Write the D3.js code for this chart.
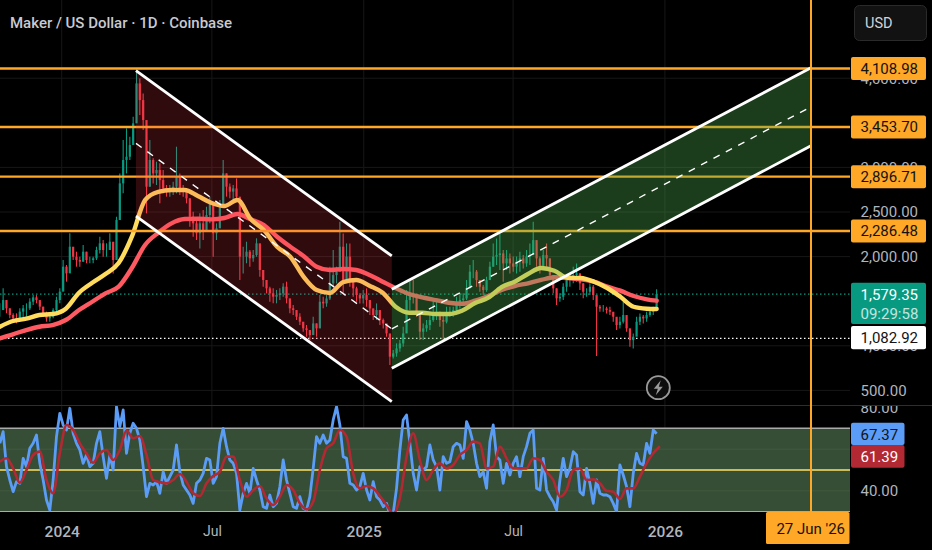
<!DOCTYPE html>
<html>
<head>
<meta charset="utf-8">
<script src="https://cdn.jsdelivr.net/npm/d3@7"></script>
<style>
html, body { margin: 0; padding: 0; background: #000; overflow: hidden; }
svg { display: block; font-family: Roboto, sans-serif; }
</style>
</head>
<body>
<svg id="chart" width="932" height="550"></svg>
<script>
// Candles, one every 4 days or so
const barStart = new Date(2023, 9, 18);
const barStep = 4.04;
const barHigh = [1476,1644,1513,1420,1364,1364,1420,1458,1476,1532,1569,1569,1495,1439,1383,1345,1420,1551,1644,1962,1906,2261,2092,2055,1999,2130,2055,1999,1999,2111,2223,2186,2149,2261,2149,2447,2933,3307,3438,3345,3569,4092,3998,3830,3345,3307,3102,3064,3046,2971,2803,2803,2840,3232,2933,2803,2746,2653,2504,2410,2485,2522,2559,2672,2522,2373,2634,3083,2933,2821,2803,2877,2597,2111,2167,2074,2074,2205,2111,1794,1738,1663,1644,1626,1644,1700,1719,1495,1458,1401,1364,1252,1233,
  1158,1326,1251,1569,1550,1569,1887,2073,1887,2391,2260,2148,2148,1756,1662,1588,1625,1644,1513,1419,1475,1345,1307,1214,1064,952,1027,1064,1214,1625,1737,1737,1513,1345,1251,1289,1345,1494,1513,1382,1363,1438,1438,1438,1550,1588,1588,1737,1905,1961,1849,1737,1681,1775,1943,2148,2204,2260,2073,2073,2036,2000,2000,2055,2017,2073,2148,2391,2148,2000,2073,2148,1980,1756,1644,1588,1700,1793,1793,1887,1924,1812,1700,1644,1700,1681,1550,1457,1457,1438,1438,1363,1307,1326,1494,1251,1195,1139,1326,1363,1345,1382,1401,1438,1633];
const barLow = [1326,1401,1364,1308,1270,1252,1270,1289,1326,1401,1458,1476,1401,1326,1270,1270,1308,1383,1476,1626,1719,1962,1962,1887,1887,1943,1925,1925,1925,1962,2036,1999,1999,2074,1812,1962,2447,2709,2933,3083,3270,3569,3587,3419,2485,2784,2821,2803,2597,2709,2672,2672,2690,2709,2690,2672,2597,2335,2223,2186,2092,2186,2373,2373,1999,2186,2373,2634,2672,2653,2634,2615,1738,1812,1925,1887,1943,1999,1775,1663,1588,1495,1476,1476,1513,1551,1476,1364,1345,1289,1233,1158,1102,
  1064,1158,1102,1401,1420,1438,1513,1662,1700,1887,1588,1775,1662,1550,1494,1475,1475,1438,1345,1289,1289,1232,1195,1102,784,859,878,934,990,1214,1401,1475,1326,1064,1064,1158,1177,1270,1289,1214,1064,1251,1326,1326,1345,1419,1457,1513,1700,1756,1662,1606,1569,1606,1737,1887,1905,1849,1718,1849,1812,1831,1812,1830,1868,1887,1905,2036,1887,1812,1924,1887,1756,1588,1457,1494,1513,1606,1662,1700,1718,1625,1532,1550,1569,1513,885,1382,1382,1363,1345,1270,1177,1195,1251,1158,990,971,1139,1232,1251,1270,1326,1345,1438];
const barClose = [1401,1513,1420,1345,1308,1289,1383,1420,1420,1495,1543,1513,1439,1364,1308,1326,1401,1513,1607,1887,1812,2111,1999,1962,1943,2055,1962,1962,1981,2074,2149,2074,2074,2167,1962,2410,2821,3083,3120,3251,3494,3942,3755,3531,2784,3083,2933,2971,2858,2765,2728,2765,2784,2896,2765,2728,2653,2447,2373,2261,2373,2298,2466,2597,2261,2317,2578,2933,2784,2728,2765,2672,2000,2000,2055,1981,2018,2149,1850,1738,1644,1588,1551,1569,1588,1663,1532,1420,1401,1326,1270,1196,1177,
  1120,1251,1195,1494,1475,1531,1700,1793,1831,2111,1737,2000,1756,1644,1569,1531,1569,1513,1419,1345,1401,1289,1251,1139,878,915,971,1027,1139,1513,1588,1550,1382,1158,1195,1232,1289,1363,1382,1289,1270,1363,1382,1401,1475,1513,1531,1644,1831,1831,1737,1662,1625,1737,1887,2000,2017,2036,1924,1980,1924,1887,1943,1980,1924,2000,2017,2185,1980,1887,2017,1980,1793,1644,1531,1550,1662,1737,1737,1793,1812,1700,1606,1606,1662,1569,1438,1419,1419,1401,1382,1326,1232,1270,1345,1195,1064,1102,1270,1326,1307,1345,1382,1401,1579.35];

// Moving averages, one reading every 16 days
const maStep = 16;
const maEnd = 796;
const maYellow = [1214,1278,1304,1345,1356,1416,1595,1707,1805,1928,2223,2634,2727,2746,2746,2679,2604,2567,2634,2421,2298,2111,1999,1775,1625,1592,1715,1738,1674,1595,1435,1371,1371,1356,1356,1393,1480,1539,1659,1718,1805,1872,1842,1763,1760,1718,1648,1550,1438,1416,1412];
const maRed = [1084,1129,1177,1214,1233,1289,1401,1494,1588,1663,1872,2130,2268,2373,2421,2425,2418,2433,2477,2418,2354,2223,2111,2007,1887,1850,1861,1850,1794,1719,1645,1581,1544,1513,1483,1472,1506,1558,1625,1670,1701,1738,1768,1760,1745,1719,1663,1618,1558,1521,1506];

// RSI and its average
const rsiBlue = [62.8,68.4,51.6,45.2,39.6,44.4,43.6,55.6,51.6,60.4,62.8,66.8,53.2,45.2,35.6,30.8,45.2,66.0,77.2,71.6,69.2,79.6,67.6,62.8,59.6,53.2,57.2,51.6,53.2,62.8,68.4,56.4,46.0,57.2,50.0,80.4,70.8,78.8,58.0,67.6,72.4,70.0,64.4,51.6,37.2,43.6,42.8,44.4,38.8,49.2,43.6,46.8,50.0,62.0,49.2,42.8,40.4,38.0,34.0,43.6,45.2,48.4,55.6,54.8,43.6,46.8,62.8,70.0,61.2,54.8,53.2,48.4,30.8,38.8,43.6,38.8,50.8,45.2,40.4,32.4,31.6,38.0,32.4,34.0,42.0,54.8,45.2,38.8,32.4,31.6,37.2,31.6,30.8,37.2,50.8,66.0,62.8,66.8,62.8,64.4,74.0,
  80.4,71.6,56.4,55.6,43.6,42.8,40.4,42.0,48.4,40.4,35.6,44.4,37.2,35.6,32.4,34.0,28.4,29.2,41.2,59.6,74.0,76.4,62.8,48.4,40.4,51.6,50.0,51.6,62.0,54.8,51.6,40.4,56.4,53.2,54.0,61.2,62.8,62.0,55.6,73.2,69.2,62.8,53.2,46.8,49.2,41.2,63.6,71.6,56.4,54.8,43.6,53.2,47.6,53.2,56.4,46.8,56.4,61.2,67.6,69.2,41.2,40.4,55.6,40.4,37.2,34.8,30.8,45.2,55.6,46.8,50.8,58.8,57.2,39.6,38.0,50.8,43.6,34.0,45.2,38.8,38.0,38.0,37.2,34.0,30.0,52.4,47.6,42.0,32.4,48.4,58.0,53.2,52.4,62.8,58.0,69.2,67.37];
const rsiRed = [54.0,55.6,50.8,43.9,50.0,57.2,58.8,45.2,38.8,58.0,71.6,69.2,62.8,58.0,53.5,58.0,59.6,54.8,59.6,68.9,65.2,66.3,57.2,45.2,44.2,43.6,45.2,48.1,44.4,38.8,37.5,43.6,47.1,49.2,56.4,56.4,45.2,37.2,40.4,42.3,36.4,33.2,37.2,42.8,40.4,34.0,31.1,34.8,50.0,60.4,62.8,
  69.2,66.0,48.4,41.2,42.3,41.2,37.5,33.2,29.2,36.4,56.4,67.6,54.8,45.2,50.0,53.2,50.8,52.4,57.2,59.6,63.6,62.8,50.8,51.6,61.2,55.6,50.8,50.8,50.8,55.6,54.8,49.2,45.2,37.2,40.4,50.0,50.8,45.2,45.5,43.6,40.0,39.6,36.1,41.2,41.2,46.8,53.2,58.0,61.39];

// Levels, channels, axis ticks
const levels = [4108.98, 3453.70, 2896.71, 2286.48];
const lastPrice = 1579.35;
const prevPrice = 1082.92;
const priceTicks = [500, 1000, 2000, 2500, 3000, 4000];
const rsiTicks = [80, 40];
const rsiGrid = [60, 40];
const rsiBand = [70, 30];
const rsiMid = 50;
const timeTicks = [new Date(2024, 0, 1), new Date(2024, 6, 1), new Date(2025, 0, 1), new Date(2025, 6, 1), new Date(2026, 0, 1)];
const timeLabels = ["2024", "Jul", "2025", "Jul", "2026"];
const markerDate = new Date(2026, 5, 27);
const downChannel = {t0: new Date(2024, 2, 31), t1: new Date(2025, 1, 4), top: [4084, 2007], bottom: [2455, 373]};
const upChannel = {t0: new Date(2025, 1, 4), t1: markerDate, top: [1633, 4117], bottom: [748, 3243]};

const orange = "#ffa726";
const up = "#089981";
const down = "#f23645";
const paneRight = 850;
const gridColor = "#171717";

const svg = d3.select("#chart");

const x = d3.scaleTime().domain([new Date(2024, 0, 1), markerDate]).range([61.7, 811]);
const y = d3.scaleLinear().domain([500, 4108.98]).range([390.4, 68.5]);
const yRsi = d3.scaleLinear().domain([30, 70]).range([511.7, 428.3]);

const barDate = i => new Date(+barStart + i * barStep * 864e5);
const dayDate = d => new Date(+barStart + d * 864e5);

svg.append("defs").append("clipPath").attr("id", "price-clip")
    .append("rect").attr("width", paneRight).attr("height", 405);
svg.select("defs").append("clipPath").attr("id", "rsi-clip")
    .append("rect").attr("y", 406).attr("width", paneRight).attr("height", 106);

// Grid
const grid = svg.append("g").attr("stroke", gridColor);
grid.selectAll(".v").data(timeTicks).join("line")
    .attr("x1", d => x(d)).attr("x2", d => x(d)).attr("y1", 0).attr("y2", 512);
grid.selectAll(".h").data(priceTicks).join("line")
    .attr("x1", 0).attr("x2", paneRight).attr("y1", d => y(d)).attr("y2", d => y(d));

// RSI band
const rsi = svg.append("g").attr("clip-path", "url(#rsi-clip)");
rsi.append("rect")
    .attr("x", 0).attr("width", paneRight)
    .attr("y", yRsi(rsiBand[0])).attr("height", yRsi(rsiBand[1]) - yRsi(rsiBand[0]))
    .attr("fill", "#354e35");
rsi.selectAll(".grid").data(rsiGrid).join("line")
    .attr("x1", 0).attr("x2", paneRight).attr("y1", d => yRsi(d)).attr("y2", d => yRsi(d))
    .attr("stroke", "#41593f");
rsi.selectAll(".band").data(rsiBand).join("line")
    .attr("x1", 0).attr("x2", paneRight).attr("y1", d => yRsi(d)).attr("y2", d => yRsi(d))
    .attr("stroke", "#a8aca8").attr("stroke-width", 1.5);
rsi.append("line")
    .attr("x1", 0).attr("x2", paneRight).attr("y1", yRsi(rsiMid)).attr("y2", yRsi(rsiMid))
    .attr("stroke", "#ffe066").attr("stroke-width", 1.5);
rsi.append("path")
    .attr("fill", "none").attr("stroke", "#5b9cf6").attr("stroke-width", 2.8).attr("stroke-linejoin", "round")
    .attr("d", d3.line().x((d, i) => x(barDate(i))).y(d => yRsi(d))(rsiBlue));
rsi.append("path")
    .attr("fill", "none").attr("stroke", "#b22833").attr("stroke-width", 2.6)
    .attr("d", d3.line().x((d, i) => x(barDate(i * 2))).y(d => yRsi(d)).curve(d3.curveMonotoneX)(rsiRed));

// Price pane
const price = svg.append("g").attr("clip-path", "url(#price-clip)");

// Last price and previous close dotted lines
price.append("line")
    .attr("x1", 0).attr("x2", paneRight).attr("y1", y(lastPrice)).attr("y2", y(lastPrice))
    .attr("stroke", up).attr("stroke-width", 1.2).attr("stroke-dasharray", "1.5 2.5");
price.append("line")
    .attr("x1", 0).attr("x2", paneRight).attr("y1", y(prevPrice)).attr("y2", y(prevPrice))
    .attr("stroke", "#fff").attr("stroke-width", 1.3).attr("stroke-dasharray", "1.5 2.5");

// Candles
const bars = price.append("g").selectAll("g").data(barClose).join("g")
    .attr("stroke", (d, i) => d >= (i ? barClose[i - 1] : d - 1) ? up : down);
bars.append("line")
    .attr("x1", (d, i) => x(barDate(i))).attr("x2", (d, i) => x(barDate(i)))
    .attr("y1", (d, i) => y(barHigh[i])).attr("y2", (d, i) => y(barLow[i]))
    .attr("stroke-width", 1.1);
bars.append("line")
    .attr("x1", (d, i) => x(barDate(i))).attr("x2", (d, i) => x(barDate(i)))
    .attr("y1", (d, i) => y(i ? barClose[i - 1] : d)).attr("y2", d => y(d))
    .attr("stroke-width", 2.2);

// Moving averages
const maLine = d3.line()
    .x((d, i) => x(dayDate(Math.min(i * maStep, maEnd))))
    .y(d => y(d))
    .curve(d3.curveMonotoneX);
price.append("path")
    .attr("fill", "none").attr("stroke", "#ff5a62").attr("stroke-width", 4.4).attr("stroke-linecap", "round")
    .attr("d", maLine(maRed));
price.append("path")
    .attr("fill", "none").attr("stroke", "#ffdc5e").attr("stroke-width", 4.4).attr("stroke-linecap", "round")
    .attr("d", maLine(maYellow));

// Horizontal levels
price.selectAll(".level").data(levels).join("line")
    .attr("x1", 0).attr("x2", paneRight).attr("y1", d => y(d)).attr("y2", d => y(d))
    .attr("stroke", orange).attr("stroke-width", 2.4);

// Channels
function drawChannel(c, fill) {
    const pts = [[c.t0, c.top[0]], [c.t1, c.top[1]], [c.t1, c.bottom[1]], [c.t0, c.bottom[0]]];
    price.append("path")
        .attr("fill", fill)
        .attr("d", d3.line().x(d => x(d[0])).y(d => y(d[1]))(pts) + "Z");
    [c.top, c.bottom].forEach(e => {
        price.append("line")
            .attr("x1", x(c.t0)).attr("x2", x(c.t1)).attr("y1", y(e[0])).attr("y2", y(e[1]))
            .attr("stroke", "#fff").attr("stroke-width", 2.8);
    });
    price.append("line")
        .attr("x1", x(c.t0)).attr("x2", x(c.t1))
        .attr("y1", y((c.top[0] + c.bottom[0]) / 2)).attr("y2", y((c.top[1] + c.bottom[1]) / 2))
        .attr("stroke", "#fff").attr("stroke-width", 1.4).attr("stroke-dasharray", "7 7");
}
drawChannel(downChannel, "rgba(242,54,69,0.2)");
drawChannel(upChannel, "rgba(76,175,80,0.35)");

// Lightning badge
const badge = svg.append("g").attr("transform", "translate(658.3,387.7)");
badge.append("circle").attr("r", 11.5).attr("fill", "#0d0d0d").attr("stroke", "#9a9a9a").attr("stroke-width", 1.8);
badge.append("path").attr("d", "M2.5,-7.5 L-4.5,1 L-0.5,1 L-2.5,7.5 L4.5,-1 L0.5,-1 Z").attr("fill", "#9a9a9a");

// Pane separator
svg.append("line").attr("x1", 0).attr("x2", 932).attr("y1", 405.5).attr("y2", 405.5)
    .attr("stroke", "#2e2e2e").attr("stroke-width", 1.2);

// Axes
const axisColor = "#b2b5be";
const styleAxis = g => {
    g.select(".domain").remove();
    g.selectAll(".tick line").remove();
    g.selectAll("text").attr("fill", axisColor).attr("font-size", 15).attr("font-family", "Roboto, sans-serif");
};
svg.append("g")
    .attr("transform", "translate(851,0)")
    .call(d3.axisRight(y).tickValues(priceTicks).tickFormat(d3.format(",.2f")).tickSize(0).tickPadding(9.5))
    .call(styleAxis);
svg.append("g")
    .attr("transform", "translate(851,0)")
    .call(d3.axisRight(yRsi).tickValues(rsiTicks).tickFormat(d3.format(".2f")).tickSize(0).tickPadding(9.5))
    .call(styleAxis);
svg.append("rect").attr("x", 851).attr("y", 396).attr("width", 81).attr("height", 9.5).attr("fill", "#000");
svg.append("line").attr("x1", 851).attr("x2", 932).attr("y1", 405.5).attr("y2", 405.5).attr("stroke", "#2e2e2e").attr("stroke-width", 1.2);
svg.append("g")
    .attr("transform", "translate(0,512)")
    .call(d3.axisBottom(x).tickValues(timeTicks).tickFormat((d, i) => timeLabels[i]).tickSize(0).tickPadding(14))
    .call(styleAxis)
    .call(g => g.selectAll("text")
        .attr("font-weight", (d, i) => timeLabels[i] === "Jul" ? 400 : 500)
        .attr("font-size", (d, i) => timeLabels[i] === "Jul" ? 14 : 15.5));

// Marker line and date tag
svg.append("line").attr("x1", x(markerDate)).attr("x2", x(markerDate)).attr("y1", 0).attr("y2", 512)
    .attr("stroke", orange).attr("stroke-width", 2);
svg.append("rect").attr("x", 766).attr("y", 512).attr("width", 83.5).attr("height", 32).attr("rx", 1.5).attr("fill", orange);
svg.append("text").attr("x", 845).attr("y", 533.5).attr("text-anchor", "end")
    .attr("font-size", 15).attr("fill", "#131313").text("27 Jun '26");

// Price tags
function tag(yc, h, w, fill, color, lines) {
    svg.append("rect").attr("x", 851).attr("y", yc - h / 2).attr("width", w).attr("height", h).attr("rx", 2).attr("fill", fill);
    lines.forEach((t, i) => {
        svg.append("text").attr("x", 860.5).attr("y", yc - h / 2 + 16.8 + i * 19)
            .attr("font-size", 15).attr("fill", color).attr("opacity", i ? 0.75 : 1)
            .text(t);
    });
}
levels.forEach(d => tag(y(d), 23, 75, orange, "#131313", [d3.format(",.2f")(d)]));
tag(303.4, 41.3, 75, up, "#fff", [d3.format(",.2f")(lastPrice), "09:29:58"]);
tag(337.7, 23.3, 75, "#fff", "#131313", [d3.format(",.2f")(prevPrice)]);
tag(433.9, 22.4, 53.5, "#5b9cf6", "#131313", [d3.format(".2f")(rsiBlue[rsiBlue.length - 1])]);
tag(456.4, 22.6, 53.5, "#b22833", "#fff", [d3.format(".2f")(rsiRed[rsiRed.length - 1])]);

// Currency button
svg.append("rect").attr("x", 854.5).attr("y", 5.5).attr("width", 72).attr("height", 35).attr("rx", 5)
    .attr("fill", "#121212").attr("stroke", "#2a2a2a");
svg.append("text").attr("x", 865).attr("y", 28).attr("font-size", 14.5).attr("fill", "#d1d4dc").text("USD");

// Title
svg.append("text").attr("x", 10).attr("y", 28).attr("font-size", 15).attr("font-weight", 500)
    .attr("fill", "#c8cad0").text("Maker / US Dollar · 1D · Coinbase");
</script>
</body>
</html>
